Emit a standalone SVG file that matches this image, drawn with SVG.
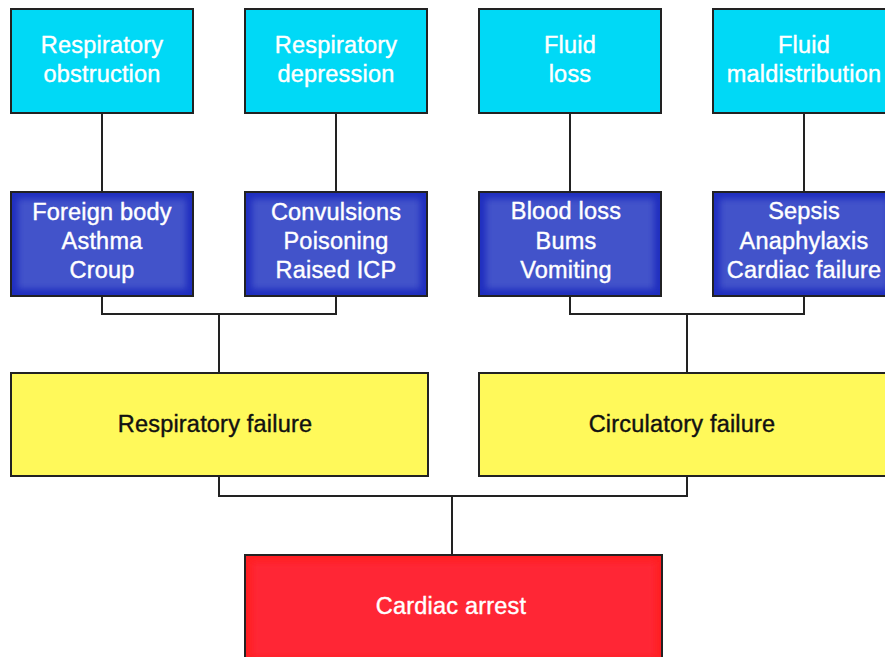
<svg xmlns="http://www.w3.org/2000/svg" width="885" height="657" viewBox="0 0 885 657">
<style>
.box{stroke:#222;stroke-width:2}
.cyan{fill:#00D9F6}
.blue{fill:#1F2EBF}
.inner{fill:#4353CA;filter:url(#soft)}
.yellow{fill:#FFF95A}
.red{fill:#FF1F22}
.redin{fill:#FF2634;filter:url(#soft)}
.t{font-family:"Liberation Sans",Arial,Helvetica,sans-serif;font-size:23.5px;letter-spacing:0.2px;text-anchor:middle;stroke-width:0.4px}
.w{fill:#fff;stroke:#fff}
.k{fill:#111;stroke:#111}
.c{fill:none;stroke:#222;stroke-width:2}
</style>
<defs>
<filter id="soft" x="-10%" y="-10%" width="120%" height="120%"><feGaussianBlur stdDeviation="3"/></filter>
</defs>
<rect width="885" height="657" fill="#fff"/>
<g id="connectors">
<line class="c" x1="102" y1="113" x2="102" y2="192"/>
<line class="c" x1="336" y1="113" x2="336" y2="192"/>
<line class="c" x1="570" y1="113" x2="570" y2="192"/>
<line class="c" x1="804" y1="113" x2="804" y2="192"/>
<polyline class="c" points="102,296 102,314 336,314 336,296"/>
<line class="c" x1="219" y1="314" x2="219" y2="373"/>
<polyline class="c" points="570,296 570,314 804,314 804,296"/>
<line class="c" x1="687" y1="314" x2="687" y2="373"/>
<polyline class="c" points="219,476 219,496 687,496 687,476"/>
<line class="c" x1="452" y1="496" x2="452" y2="555"/>
</g>
<g id="n-resp-obstruction">
<rect class="box cyan" x="11" y="9" width="182" height="104"/>
<text class="t w" x="102" y="53">Respiratory</text>
<text class="t w" x="102" y="82">obstruction</text>
</g>
<g id="n-resp-depression">
<rect class="box cyan" x="245" y="9" width="182" height="104"/>
<text class="t w" x="336" y="53">Respiratory</text>
<text class="t w" x="336" y="82">depression</text>
</g>
<g id="n-fluid-loss">
<rect class="box cyan" x="479" y="9" width="182" height="104"/>
<text class="t w" x="570" y="53">Fluid</text>
<text class="t w" x="570" y="82">loss</text>
</g>
<g id="n-fluid-maldistribution">
<rect class="box cyan" x="713" y="9" width="182" height="104"/>
<text class="t w" x="804" y="53">Fluid</text>
<text class="t w" x="804" y="82">maldistribution</text>
</g>
<g id="n-resp-causes">
<rect class="box blue" x="11" y="192" width="182" height="104"/>
<rect class="inner" x="18" y="199" width="168" height="90"/>
<text class="t w" x="102" y="220">Foreign body</text>
<text class="t w" x="102" y="249">Asthma</text>
<text class="t w" x="102" y="278">Croup</text>
</g>
<g id="n-depression-causes">
<rect class="box blue" x="245" y="192" width="182" height="104"/>
<rect class="inner" x="252" y="199" width="168" height="90"/>
<text class="t w" x="336" y="220">Convulsions</text>
<text class="t w" x="336" y="249">Poisoning</text>
<text class="t w" x="336" y="278">Raised ICP</text>
</g>
<g id="n-loss-causes">
<rect class="box blue" x="479" y="192" width="182" height="104"/>
<rect class="inner" x="486" y="199" width="168" height="90"/>
<text class="t w" x="566" y="219">Blood loss</text>
<text class="t w" x="566" y="249">Bums</text>
<text class="t w" x="566" y="278">Vomiting</text>
</g>
<g id="n-maldistribution-causes">
<rect class="box blue" x="713" y="192" width="182" height="104"/>
<rect class="inner" x="720" y="199" width="168" height="90"/>
<text class="t w" x="804" y="219">Sepsis</text>
<text class="t w" x="804" y="249">Anaphylaxis</text>
<text class="t w" x="804" y="278">Cardiac failure</text>
</g>
<g id="n-respiratory-failure">
<rect class="box yellow" x="11" y="373" width="417" height="103"/>
<text class="t k" x="215" y="432">Respiratory failure</text>
</g>
<g id="n-circulatory-failure">
<rect class="box yellow" x="479" y="373" width="417" height="103"/>
<text class="t k" x="682" y="432">Circulatory failure</text>
</g>
<g id="n-cardiac-arrest">
<rect class="box red" x="245" y="555" width="417" height="104"/>
<rect class="redin" x="252" y="562" width="403" height="95"/>
<text class="t w" x="451" y="614">Cardiac arrest</text>
</g>
</svg>
